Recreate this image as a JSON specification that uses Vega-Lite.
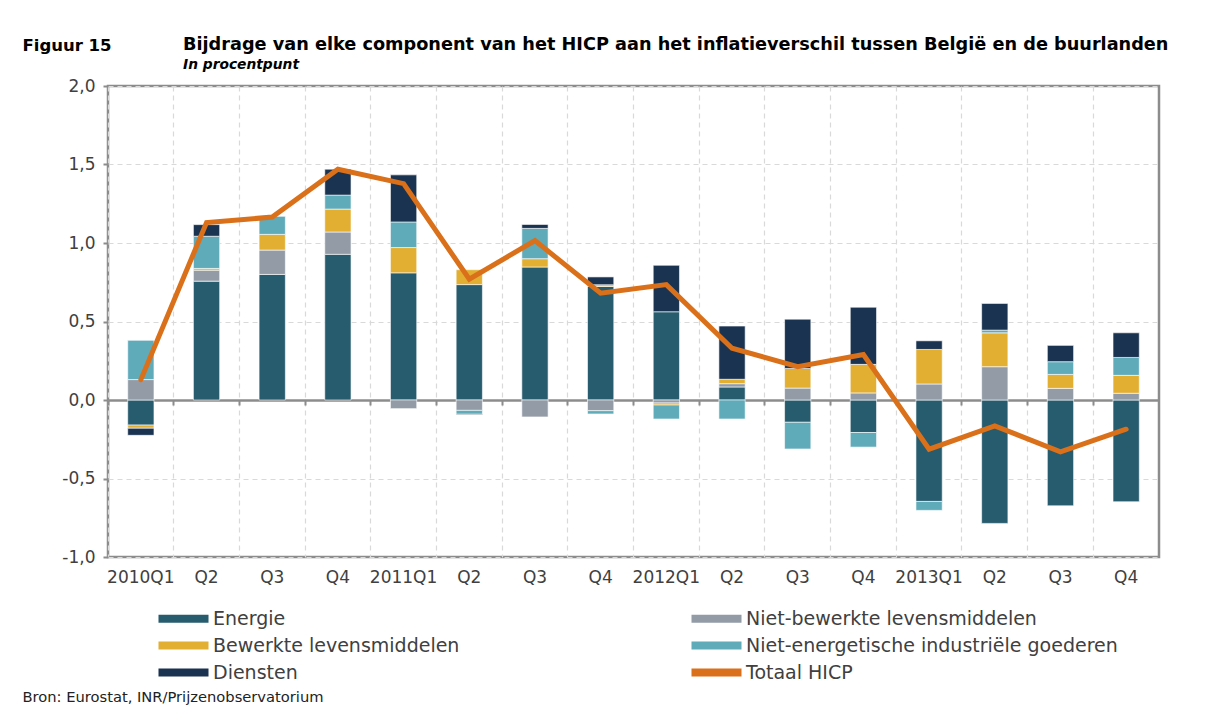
{
  "$schema": "https://vega.github.io/schema/vega-lite/v6.json",
  "width": 1051,
  "height": 471,
  "autosize": {"type": "none"},
  "padding": {"left": 108, "top": 86, "right": 52, "bottom": 167},
  "background": "white",
  "config": {
    "view": {"stroke": "#8c8c8c", "strokeWidth": 2.5},
    "font": "DejaVu Sans"
  },
  "title": {
    "text": "Bijdrage van elke component van het HICP aan het inflatieverschil tussen België en de buurlanden",
    "subtitle": "In procentpunt",
    "anchor": "start",
    "frame": "group",
    "dx": 75,
    "dy": 51,
    "offset": 16,
    "font": "DejaVu Sans",
    "fontSize": 17.7,
    "fontWeight": "bold",
    "color": "#000000",
    "subtitleFont": "DejaVu Sans",
    "subtitleFontSize": 13.8,
    "subtitleFontWeight": "bold",
    "subtitleFontStyle": "italic",
    "subtitleColor": "#000000",
    "subtitlePadding": 5
  },
  "datasets": {
    "bars": [
      {"q": "2010Q1", "comp": "Energie", "v": -0.16},
      {"q": "2010Q1", "comp": "Niet-bewerkte levensmiddelen", "v": 0.13},
      {"q": "2010Q1", "comp": "Bewerkte levensmiddelen", "v": -0.02},
      {"q": "2010Q1", "comp": "Niet-energetische industriële goederen", "v": 0.25},
      {"q": "2010Q1", "comp": "Diensten", "v": -0.045},
      {"q": "2010Q2", "comp": "Energie", "v": 0.757},
      {"q": "2010Q2", "comp": "Niet-bewerkte levensmiddelen", "v": 0.07},
      {"q": "2010Q2", "comp": "Bewerkte levensmiddelen", "v": 0.011},
      {"q": "2010Q2", "comp": "Niet-energetische industriële goederen", "v": 0.205},
      {"q": "2010Q2", "comp": "Diensten", "v": 0.074},
      {"q": "2010Q3", "comp": "Energie", "v": 0.80},
      {"q": "2010Q3", "comp": "Niet-bewerkte levensmiddelen", "v": 0.155},
      {"q": "2010Q3", "comp": "Bewerkte levensmiddelen", "v": 0.10},
      {"q": "2010Q3", "comp": "Niet-energetische industriële goederen", "v": 0.117},
      {"q": "2010Q3", "comp": "Diensten", "v": 0.0},
      {"q": "2010Q4", "comp": "Energie", "v": 0.928},
      {"q": "2010Q4", "comp": "Niet-bewerkte levensmiddelen", "v": 0.142},
      {"q": "2010Q4", "comp": "Bewerkte levensmiddelen", "v": 0.146},
      {"q": "2010Q4", "comp": "Niet-energetische industriële goederen", "v": 0.089},
      {"q": "2010Q4", "comp": "Diensten", "v": 0.165},
      {"q": "2011Q1", "comp": "Energie", "v": 0.81},
      {"q": "2011Q1", "comp": "Niet-bewerkte levensmiddelen", "v": -0.055},
      {"q": "2011Q1", "comp": "Bewerkte levensmiddelen", "v": 0.161},
      {"q": "2011Q1", "comp": "Niet-energetische industriële goederen", "v": 0.163},
      {"q": "2011Q1", "comp": "Diensten", "v": 0.30},
      {"q": "2011Q2", "comp": "Energie", "v": 0.735},
      {"q": "2011Q2", "comp": "Niet-bewerkte levensmiddelen", "v": -0.066},
      {"q": "2011Q2", "comp": "Bewerkte levensmiddelen", "v": 0.095},
      {"q": "2011Q2", "comp": "Niet-energetische industriële goederen", "v": -0.025},
      {"q": "2011Q2", "comp": "Diensten", "v": -0.004},
      {"q": "2011Q3", "comp": "Energie", "v": 0.847},
      {"q": "2011Q3", "comp": "Niet-bewerkte levensmiddelen", "v": -0.108},
      {"q": "2011Q3", "comp": "Bewerkte levensmiddelen", "v": 0.053},
      {"q": "2011Q3", "comp": "Niet-energetische industriële goederen", "v": 0.193},
      {"q": "2011Q3", "comp": "Diensten", "v": 0.025},
      {"q": "2011Q4", "comp": "Energie", "v": 0.723},
      {"q": "2011Q4", "comp": "Niet-bewerkte levensmiddelen", "v": -0.068},
      {"q": "2011Q4", "comp": "Bewerkte levensmiddelen", "v": 0.011},
      {"q": "2011Q4", "comp": "Niet-energetische industriële goederen", "v": -0.021},
      {"q": "2011Q4", "comp": "Diensten", "v": 0.05},
      {"q": "2012Q1", "comp": "Energie", "v": 0.562},
      {"q": "2012Q1", "comp": "Niet-bewerkte levensmiddelen", "v": -0.019},
      {"q": "2012Q1", "comp": "Bewerkte levensmiddelen", "v": -0.013},
      {"q": "2012Q1", "comp": "Niet-energetische industriële goederen", "v": -0.089},
      {"q": "2012Q1", "comp": "Diensten", "v": 0.296},
      {"q": "2012Q2", "comp": "Energie", "v": 0.083},
      {"q": "2012Q2", "comp": "Niet-bewerkte levensmiddelen", "v": 0.021},
      {"q": "2012Q2", "comp": "Bewerkte levensmiddelen", "v": 0.028},
      {"q": "2012Q2", "comp": "Niet-energetische industriële goederen", "v": -0.121},
      {"q": "2012Q2", "comp": "Diensten", "v": 0.339},
      {"q": "2012Q3", "comp": "Energie", "v": -0.142},
      {"q": "2012Q3", "comp": "Niet-bewerkte levensmiddelen", "v": 0.076},
      {"q": "2012Q3", "comp": "Bewerkte levensmiddelen", "v": 0.125},
      {"q": "2012Q3", "comp": "Niet-energetische industriële goederen", "v": -0.17},
      {"q": "2012Q3", "comp": "Diensten", "v": 0.314},
      {"q": "2012Q4", "comp": "Energie", "v": -0.207},
      {"q": "2012Q4", "comp": "Niet-bewerkte levensmiddelen", "v": 0.045},
      {"q": "2012Q4", "comp": "Bewerkte levensmiddelen", "v": 0.182},
      {"q": "2012Q4", "comp": "Niet-energetische industriële goederen", "v": -0.093},
      {"q": "2012Q4", "comp": "Diensten", "v": 0.364},
      {"q": "2013Q1", "comp": "Energie", "v": -0.646},
      {"q": "2013Q1", "comp": "Niet-bewerkte levensmiddelen", "v": 0.102},
      {"q": "2013Q1", "comp": "Bewerkte levensmiddelen", "v": 0.22},
      {"q": "2013Q1", "comp": "Niet-energetische industriële goederen", "v": -0.057},
      {"q": "2013Q1", "comp": "Diensten", "v": 0.055},
      {"q": "2013Q2", "comp": "Energie", "v": -0.786},
      {"q": "2013Q2", "comp": "Niet-bewerkte levensmiddelen", "v": 0.212},
      {"q": "2013Q2", "comp": "Bewerkte levensmiddelen", "v": 0.216},
      {"q": "2013Q2", "comp": "Niet-energetische industriële goederen", "v": 0.017},
      {"q": "2013Q2", "comp": "Diensten", "v": 0.17},
      {"q": "2013Q3", "comp": "Energie", "v": -0.674},
      {"q": "2013Q3", "comp": "Niet-bewerkte levensmiddelen", "v": 0.074},
      {"q": "2013Q3", "comp": "Bewerkte levensmiddelen", "v": 0.089},
      {"q": "2013Q3", "comp": "Niet-energetische industriële goederen", "v": 0.081},
      {"q": "2013Q3", "comp": "Diensten", "v": 0.104},
      {"q": "2013Q4", "comp": "Energie", "v": -0.648},
      {"q": "2013Q4", "comp": "Niet-bewerkte levensmiddelen", "v": 0.043},
      {"q": "2013Q4", "comp": "Bewerkte levensmiddelen", "v": 0.114},
      {"q": "2013Q4", "comp": "Niet-energetische industriële goederen", "v": 0.114},
      {"q": "2013Q4", "comp": "Diensten", "v": 0.157}
    ],
    "total": [
      {"q": "2010Q1", "comp": "Totaal HICP", "v": 0.13},
      {"q": "2010Q2", "comp": "Totaal HICP", "v": 1.13},
      {"q": "2010Q3", "comp": "Totaal HICP", "v": 1.165},
      {"q": "2010Q4", "comp": "Totaal HICP", "v": 1.47},
      {"q": "2011Q1", "comp": "Totaal HICP", "v": 1.378},
      {"q": "2011Q2", "comp": "Totaal HICP", "v": 0.77},
      {"q": "2011Q3", "comp": "Totaal HICP", "v": 1.015},
      {"q": "2011Q4", "comp": "Totaal HICP", "v": 0.68},
      {"q": "2012Q1", "comp": "Totaal HICP", "v": 0.735},
      {"q": "2012Q2", "comp": "Totaal HICP", "v": 0.33},
      {"q": "2012Q3", "comp": "Totaal HICP", "v": 0.212},
      {"q": "2012Q4", "comp": "Totaal HICP", "v": 0.29},
      {"q": "2013Q1", "comp": "Totaal HICP", "v": -0.313},
      {"q": "2013Q2", "comp": "Totaal HICP", "v": -0.165},
      {"q": "2013Q3", "comp": "Totaal HICP", "v": -0.33},
      {"q": "2013Q4", "comp": "Totaal HICP", "v": -0.186}
    ]
  },
  "resolve": {"axis": {"x": "independent"}},
  "layer": [
    {
      "data": {"name": "bars"},
      "transform": [
        {"calculate": "indexof(['Energie', 'Niet-bewerkte levensmiddelen', 'Bewerkte levensmiddelen', 'Niet-energetische industriële goederen', 'Diensten'], datum.comp)", "as": "ord"}
      ],
      "mark": {"type": "bar", "width": {"band": 0.4}, "stroke": "#ffffff", "strokeWidth": 0.6},
      "encoding": {
        "x": {
          "field": "q", "type": "nominal", "sort": null,
          "scale": {"type": "band", "paddingInner": 0, "paddingOuter": 0},
          "axis": {
            "orient": "bottom",
            "domain": false,
            "ticks": false,
            "bandPosition": 0,
            "grid": true,
            "gridColor": "#d9d9d9",
            "gridDash": [5, 4],
            "gridWidth": 1.2,
            "labelAngle": 0,
            "labelAlign": "center",
            "labelFont": "DejaVu Sans",
            "labelFontSize": 17,
            "labelColor": "#404040",
            "labelPadding": 12,
            "labelExpr": "slice(datum.value, 4) == 'Q1' ? datum.value : slice(datum.value, 4)",
            "title": "Bron: Eurostat, INR/Prijzenobservatorium",
            "titleX": -86,
            "titleY": 144,
            "titleAlign": "left",
            "titleAnchor": "start",
            "titleBaseline": "alphabetic",
            "titleFont": "DejaVu Sans",
            "titleFontSize": 14.7,
            "titleFontWeight": "normal",
            "titleColor": "#222222"
          }
        },
        "y": {
          "field": "v", "type": "quantitative", "stack": "zero",
          "scale": {"domain": [-1, 2], "nice": false, "zero": false},
          "axis": {
            "values": [-1, -0.5, 0, 0.5, 1, 1.5, 2],
            "domain": false,
            "ticks": true,
            "tickSize": 5,
            "tickColor": "#8c8c8c",
            "tickWidth": 2,
            "grid": true,
            "gridColor": "#d9d9d9",
            "gridDash": [5, 4],
            "gridWidth": 1.2,
            "labelFont": "DejaVu Sans",
            "labelFontSize": 17,
            "labelColor": "#404040",
            "labelPadding": 8,
            "labelExpr": "replace(replace(format(datum.value, '.1f'), '.', ','), '\u2212', '-')",
            "title": "Figuur 15",
            "titleAngle": 0,
            "titleX": -86,
            "titleY": -36,
            "titleAlign": "left",
            "titleBaseline": "alphabetic",
            "titleFont": "DejaVu Sans",
            "titleFontSize": 16.5,
            "titleFontWeight": "bold",
            "titleColor": "#000000"
          }
        },
        "order": {"field": "ord", "type": "quantitative", "sort": "ascending"},
        "color": {
          "field": "comp", "type": "nominal",
          "scale": {
            "domain": ["Energie", "Niet-bewerkte levensmiddelen", "Bewerkte levensmiddelen", "Niet-energetische industriële goederen", "Diensten", "Totaal HICP"],
            "range": ["#275b6e", "#929ba6", "#e2af33", "#60abba", "#1a3350", "#da7019"]
          },
          "legend": {
            "orient": "none",
            "legendX": 66,
            "legendY": 523,
            "direction": "horizontal",
            "columns": 2,
            "columnPadding": 231,
            "rowPadding": 7,
            "title": null,
            "labelFont": "DejaVu Sans",
            "labelFontSize": 19,
            "labelColor": "#404040",
            "labelOffset": 20,
            "labelLimit": 500,
            "symbolSize": 100,
            "symbolType": "M-5,-0.8H5V0.8H-5Z",
            "symbolStrokeWidth": 0,
            "encode": {
              "symbols": {
                "update": {
                  "shape": {"signal": "datum.value === 'Totaal HICP' ? 'M-4.7,0H4.7' : 'M-5,-0.8H5V0.8H-5Z'"},
                  "fill": {"signal": "datum.value === 'Totaal HICP' ? 'transparent' : scale('color', datum.value)"},
                  "stroke": {"signal": "datum.value === 'Totaal HICP' ? scale('color', datum.value) : 'transparent'"},
                  "strokeWidth": {"value": 5},
                  "strokeCap": {"value": "round"},
                  "opacity": {"value": 1}
                }
              }
            }
          }
        }
      }
    },
    {
      "data": {"name": "total"},
      "mark": {"type": "line", "strokeWidth": 5, "strokeCap": "round"},
      "encoding": {
        "x": {
          "field": "q", "type": "nominal", "sort": null,
          "axis": {
            "orient": "top",
            "offset": -314,
            "domain": true,
            "domainColor": "#8c8c8c",
            "domainWidth": 2.5,
            "ticks": true,
            "tickSize": -5,
            "tickColor": "#8c8c8c",
            "tickWidth": 2,
            "bandPosition": 0,
            "labels": false,
            "grid": false,
            "title": null
          }
        },
        "y": {"field": "v", "type": "quantitative"},
        "color": {"field": "comp", "type": "nominal"}
      }
    }
  ]
}
